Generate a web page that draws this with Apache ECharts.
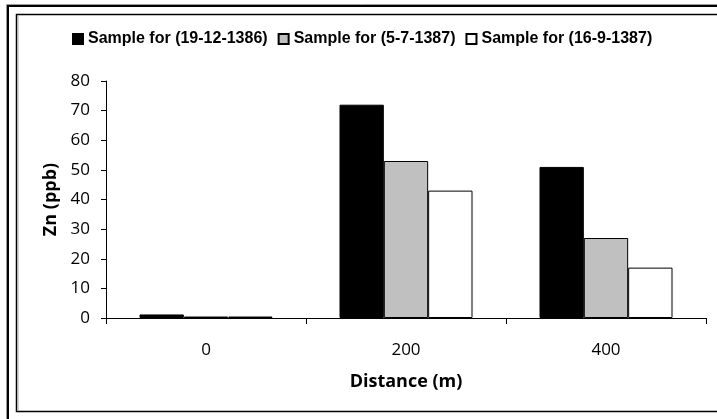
<!DOCTYPE html>
<html>
<head>
<meta charset="utf-8">
<script src="https://cdn.jsdelivr.net/npm/echarts@6/dist/echarts.min.js"></script>
<style>
html,body{margin:0;padding:0;background:#fff;}
#chart{width:717px;height:419px;}
</style>
</head>
<body>
<div id="chart"></div>
<script>
const categories = ['0', '200', '400'];
const seriesNames = ['Sample for (19-12-1386)', 'Sample for (5-7-1387)', 'Sample for (16-9-1387)'];
const sample1 = [1.2, 72, 51];
const sample2 = [0.5, 53, 27];
const sample3 = [0.5, 43, 17];
const yTicks = [0, 10, 20, 30, 40, 50, 60, 70, 80];

const chart = echarts.init(document.getElementById('chart'), null, {renderer: 'canvas'});
const colors = ['#000000', '#c0c0c0', '#ffffff'];
const seriesData = [sample1, sample2, sample3];

chart.setOption({
  animation: false,
  backgroundColor: '#fff',
  legend: {
    top: 26,
    left: 67,
    itemWidth: 10,
    itemHeight: 10,
    itemGap: 10,
    icon: 'rect',
    textStyle: {fontFamily: 'Liberation Sans', fontWeight: 'bold', fontSize: 16, color: '#000', padding: [0, 0, 0, 0]},
    data: seriesNames
  },
  grid: {left: 106, top: 81, right: 11, bottom: 101, containLabel: false},
  xAxis: {
    type: 'category',
    data: categories,
    name: 'Distance (m)',
    nameLocation: 'middle',
    nameGap: 55,
    nameTextStyle: {fontFamily: 'Open Sans', fontWeight: 'bold', fontSize: 18, color: '#000'},
    axisLine: {lineStyle: {color: '#000', width: 1}},
    axisTick: {show: true, length: 6, lineStyle: {color: '#000'}, alignWithLabel: false},
    axisLabel: {fontFamily: 'Open Sans', fontSize: 17, color: '#000', margin: 24}
  },
  yAxis: {
    type: 'value',
    min: 0,
    max: 80,
    interval: 10,
    name: 'Zn (ppb)',
    nameLocation: 'middle',
    nameGap: 45,
    nameRotate: 90,
    nameTextStyle: {fontFamily: 'Open Sans', fontWeight: 'bold', fontSize: 18, color: '#000'},
    axisLine: {show: true, lineStyle: {color: '#000', width: 1}},
    axisTick: {show: true, length: 5, lineStyle: {color: '#000'}},
    splitLine: {show: false},
    axisLabel: {fontFamily: 'Open Sans', fontSize: 17, color: '#000', margin: 16,
      formatter: v => yTicks.includes(v) ? String(v) : ''}
  },
  series: seriesNames.map((n, i) => ({
    name: n,
    type: 'bar',
    data: seriesData[i],
    barGap: '0%',
    barCategoryGap: '33.5%',
    itemStyle: {color: colors[i], borderColor: '#000', borderWidth: 1}
  })),
  graphic: [
    {type: 'polyline', shape: {points: [[8, 419], [8, 6], [717, 6]]}, style: {stroke: '#000', lineWidth: 2, fill: null}},
    {type: 'polyline', shape: {points: [[6.5, 419], [6.5, 4.5], [717, 4.5]]}, style: {stroke: '#999', lineWidth: 1, fill: null}},
    {type: 'polyline', shape: {points: [[717, 411.5], [16.5, 411.5], [16.5, 14.5], [717, 14.5]]}, style: {stroke: '#000', lineWidth: 1.5, fill: null}},
    {type: 'line', shape: {x1: 18, y1: 16, x2: 18, y2: 411}, style: {stroke: '#aaa', lineWidth: 1}}
  ]
});
</script>
</body>
</html>
